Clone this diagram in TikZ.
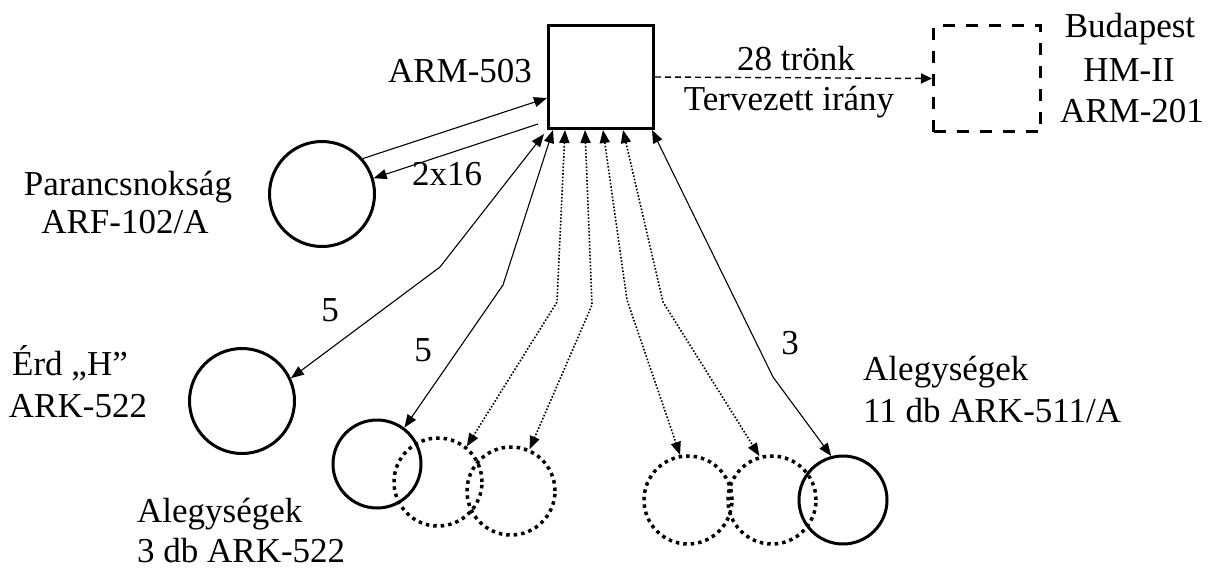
\documentclass[tikz,border=0pt]{standalone}
\usepackage{fontspec}
\setmainfont{Liberation Serif}
\usetikzlibrary{arrows.meta}
\begin{document}
\begin{tikzpicture}[x=1pt,y=-1pt,
  every node/.style={font=\fontsize{35}{42}\selectfont, inner sep=0pt},
  sqbox/.style={draw, line width=3pt, minimum width=105pt, minimum height=103pt},
  dbox/.style={draw, line width=3pt, dash pattern=on 12pt off 11pt, minimum width=107pt, minimum height=106pt},
  bigcirc/.style={circle, draw, line width=3pt, minimum size=105pt},
  smallcirc/.style={circle, draw, line width=3pt, minimum size=88pt},
  dotcirc/.style={circle, draw, line width=3.5pt, dash pattern=on 3.5pt off 4pt, minimum size=88pt},
  conn/.style={line width=1.1pt, {Triangle[length=13pt,width=10pt]}-{Triangle[length=13pt,width=10pt]}},
  oneway/.style={line width=1.1pt, -{Triangle[length=13pt,width=10pt]}},
  dotconn/.style={line width=1.6pt, dash pattern=on 1.6pt off 1.8pt, {Triangle[length=13pt,width=10pt]}-{Triangle[length=13pt,width=10pt]}},
  dashconn/.style={line width=1.4pt, dash pattern=on 6pt off 4pt, -{Triangle[length=11pt,width=10pt]}},
  lbl/.style={anchor=base},
  lblw/.style={anchor=base west}
]
\useasboundingbox (0,0) rectangle (1214,568);

% main nodes
\node[sqbox] (sq) at (601,77) {};
\node[dbox] (bp) at (987,78.5) {};
\node[bigcirc] (P) at (322,194) {};
\node[bigcirc] (E) at (242,401) {};
\node[smallcirc] (L1) at (377,464) {};
\node[dotcirc] (L2) at (438,482) {};
\node[dotcirc] (L3) at (511,491) {};
\node[dotcirc] (R1) at (688,500) {};
\node[dotcirc] (R2) at (772,500) {};
\node[smallcirc] (R3) at (843,500) {};

% labels
\node[lbl] (tarm) at (460,82) {ARM-503};
\node[lbl] (t28) at (796,70) {28 trönk};
\node[lbl] (tterv) at (789,110) {Tervezett irány};
\node[lbl] (tbud) at (1130,37) {Budapest};
\node[lbl] (thm) at (1129,81) {HM-II};
\node[lbl] (tarm2) at (1132,122) {ARM-201};
\node[lbl] (tpar) at (128,195) {Parancsnokság};
\node[lbl] (tarf) at (125,233) {ARF-102/A};
\node[lbl] (terd) at (70,375) {Érd „H”};
\node[lbl] (tark) at (78,417) {ARK-522};
\node[lblw] (tale1) at (137,522) {Alegységek};
\node[lblw] (tdb1) at (137,562) {3 db ARK-522};
\node[lblw] (tale2) at (863,380) {Alegységek};
\node[lblw] (tdb2) at (863,422) {11 db ARK-511/A};
\node (n5a) at (330,310) {5};
\node (n5b) at (423,350) {5};
\node (n3) at (790,343) {3};
\node (n2x) at (447,174) {2x16};

% kink coordinates
\coordinate (k3) at (440,267);
\coordinate (k4) at (503,285);
\coordinate (k5) at (557,302);
\coordinate (k6) at (592,305);
\coordinate (k7) at (627,300);
\coordinate (k8) at (663,302);
\coordinate (k9) at (773,377);
\coordinate (s2) at (538,124);

% connectors
\draw[dashconn] (sq.east) -- (bp.west);
\draw[oneway] (P.41) -- ([yshift=-21pt]sq.west);
\draw[oneway] (s2) -- (P.17);
\draw[conn] ([xshift=-3pt,yshift=-4pt]sq.south west) -- (k3) -- (E.25);
\draw[conn] ([xshift=6pt]sq.south west) -- (k4) -- (L1.53);
\draw[dotconn] ([xshift=18pt]sq.south west) -- (k5) -- (L2.51);
\draw[dotconn] ([xshift=38pt]sq.south west) -- (k6) -- (L3.66);
\draw[dotconn] ([xshift=56pt]sq.south west) -- (k7) -- (R1.100);
\draw[dotconn] ([xshift=76pt]sq.south west) -- (k8) -- (R2.106);
\draw[conn] ([xshift=-3pt]sq.south east) -- (k9) -- (R3.105);
\end{tikzpicture}
\end{document}
